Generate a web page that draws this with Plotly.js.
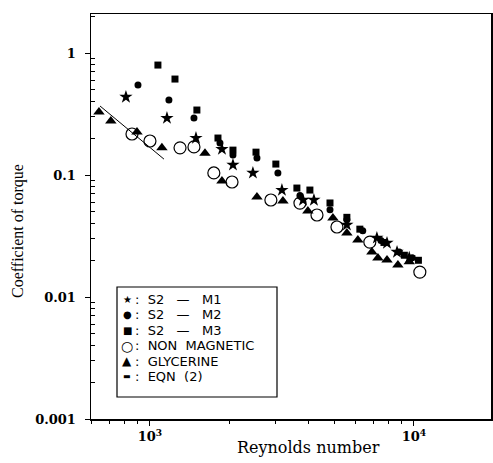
<!DOCTYPE html>
<html><head><meta charset="utf-8">
<script src="https://cdn.plot.ly/plotly-3.0.1.min.js"></script>
<style>body{margin:0;background:#fff}#c{width:493px;height:463px}</style>
</head><body><div id="c"></div>
<script>
// Reynolds number (x) and coefficient of torque (y) per series
const m1Re = [811, 1160, 1494, 1874, 2063, 2455, 3162, 3800, 4180, 5572, 7240, 7907, 8630, 9600];
const m1Cm = [0.436, 0.293, 0.201, 0.163, 0.121, 0.104, 0.0753, 0.0624, 0.0624, 0.039, 0.0305, 0.0277, 0.0234, 0.021];
const m2Re = [901, 1180, 1468, 1842, 2063, 2543, 3053, 3700, 4809, 5572, 6400, 7500, 8800, 9850];
const m2Cm = [0.547, 0.412, 0.293, 0.183, 0.146, 0.138, 0.104, 0.068, 0.052, 0.043, 0.035, 0.029, 0.0234, 0.021];
const m3Re = [1072, 1244, 1506, 1810, 2063, 2522, 2999, 3603, 4036, 4809, 5572, 6240, 7700, 9200, 10400];
const m3Cm = [0.797, 0.612, 0.341, 0.201, 0.160, 0.154, 0.123, 0.0782, 0.0753, 0.059, 0.045, 0.036, 0.028, 0.022, 0.020];
const nmRe = [855, 1000, 1300, 1468, 1746, 2046, 2872, 3700, 4293, 5110, 6807, 10530];
const nmCm = [0.217, 0.190, 0.167, 0.170, 0.104, 0.0877, 0.0624, 0.0589, 0.047, 0.0375, 0.0282, 0.0160];
const glRe = [641, 711, 893, 1110, 1616, 1874, 2543, 3190, 3965, 4934, 5572, 6133, 6930, 7305, 7907, 8696, 9600];
const glCm = [0.328, 0.277, 0.225, 0.167, 0.151, 0.0893, 0.066, 0.0612, 0.0507, 0.0445, 0.0335, 0.0293, 0.0234, 0.0209, 0.0201, 0.0183, 0.0195];
const eqRe = [647, 1130];
const eqCm = [0.368, 0.135];
const names = ["S2   \u2014   M1", "S2   \u2014   M2", "S2   \u2014   M3", "NON  MAGNETIC", "GLYCERINE", "EQN  (2)"];
const legendGlyphs = ["\u2605", "\u25CF", "\u25A0", "\u25CB", "\u25B2", "\u25AC"];
const yTicks = [0.001, 0.01, 0.1, 1];
const yTickText = ["0.001", "0.01", "0.1", "1"];
const xTicks = [1000, 10000];
const xTickText = ["10<sup>3</sup>", "10<sup>4</sup>"];
const xTitle = "Reynolds number";
const yTitle = "Coefficient of torque";

const serif = "DejaVu Serif, Liberation Serif, serif";
const sans = "DejaVu Sans, Liberation Sans, sans-serif";
const traces = [
  {x: m1Re, y: m1Cm, name: names[0], mode: "markers", marker: {symbol: "star", size: 10, color: "#000"}},
  {x: m2Re, y: m2Cm, name: names[1], mode: "markers", marker: {symbol: "circle", size: 7, color: "#000"}},
  {x: m3Re, y: m3Cm, name: names[2], mode: "markers", marker: {symbol: "square", size: 7, color: "#000"}},
  {x: nmRe, y: nmCm, name: names[3], mode: "markers", marker: {symbol: "circle-open", size: 12, color: "#000", line: {width: 1.2}}},
  {x: glRe, y: glCm, name: names[4], mode: "markers", marker: {symbol: "triangle-up", size: 10, color: "#000"}},
  {x: eqRe, y: eqCm, name: names[5], mode: "lines", line: {color: "#000", width: 1}}
];

// plot area geometry in pixels (for converting legend placement to paper coords)
const L = 91, T = 14, W = 400, H = 405;
const px = v => (v - L) / W;
const py = v => (T + H - v) / H;
const rowY = [299, 314.5, 330, 345.5, 361, 376.5];
const glyphSize = [10, 10, 10, 14, 12, 8];

const annotations = [];
names.forEach((n, i) => {
  annotations.push({xref: "paper", yref: "paper", x: px(127), y: py(rowY[i]), xanchor: "center", yanchor: "middle",
    text: legendGlyphs[i], showarrow: false, font: {family: sans, size: glyphSize[i], color: "#000"}});
  annotations.push({xref: "paper", yref: "paper", x: px(133), y: py(rowY[i]), xanchor: "left", yanchor: "middle",
    text: ":  " + n, showarrow: false, font: {family: sans, size: 13, color: "#000"}});
});
annotations.push({xref: "paper", yref: "paper", x: px(308), y: py(447), xanchor: "center", yanchor: "middle",
  text: xTitle, showarrow: false, font: {family: serif, size: 16, color: "#000"}});
annotations.push({xref: "paper", yref: "paper", x: px(18), y: py(231), xanchor: "center", yanchor: "middle",
  text: yTitle, textangle: -90, showarrow: false, font: {family: "Liberation Serif, serif", size: 16, color: "#000"}});

const layout = {
  width: 493, height: 463,
  margin: {l: L, r: 2, t: T, b: 44},
  paper_bgcolor: "#fff", plot_bgcolor: "#fff",
  showlegend: false,
  annotations: annotations,
  shapes: [{type: "rect", xref: "paper", yref: "paper", x0: px(117), x1: px(277), y0: py(397), y1: py(287),
            line: {color: "#000", width: 1.2}, fillcolor: "rgba(0,0,0,0)"}],
  xaxis: {type: "log", range: [Math.log10(598), 4.292], tickvals: xTicks, ticktext: xTickText,
          ticks: "outside", ticklen: 5, tickcolor: "#000", showline: true, linecolor: "#000", linewidth: 1.5, mirror: true,
          showgrid: false, zeroline: false,
          minor: {ticks: "outside", ticklen: 3, tickcolor: "#000", showgrid: false, tickvals: [600,700,800,900,2000,3000,4000,5000,6000,7000,8000,9000]},
          tickfont: {family: serif, size: 13, color: "#000", weight: "bold"}},
  yaxis: {type: "log", range: [-3, 0.32], tickvals: yTicks, ticktext: yTickText,
          ticks: "outside", ticklen: 5, tickcolor: "#000", showline: true, linecolor: "#000", linewidth: 1.5, mirror: true,
          showgrid: false, zeroline: false, ticklabelstandoff: 6,
          minor: {ticks: "inside", ticklen: 4, tickcolor: "#000", showgrid: false,
                  tickvals: [0.002,0.003,0.004,0.005,0.006,0.007,0.008,0.009,0.02,0.03,0.04,0.05,0.06,0.07,0.08,0.09,0.2,0.3,0.4,0.5,0.6,0.7,0.8,0.9,2]},
          tickfont: {family: serif, size: 13, color: "#000", weight: "bold"}}
};
Plotly.newPlot("c", traces, layout, {staticPlot: true, displayModeBar: false});
</script></body></html>
